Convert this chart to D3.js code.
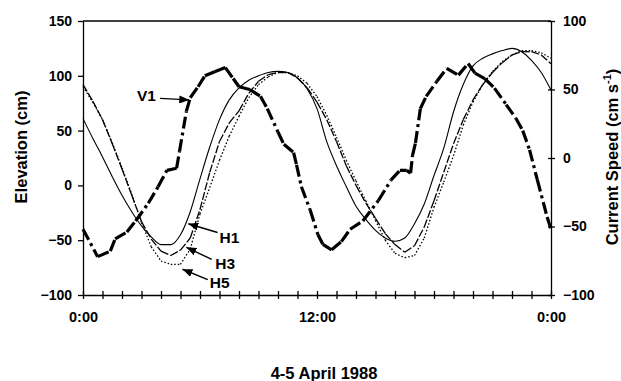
<!DOCTYPE html>
<html>
<head>
<meta charset="utf-8">
<script src="https://cdn.jsdelivr.net/npm/d3@7"></script>
<style>
  body { margin: 0; background: #fff; }
  svg { display: block; font-family: "Liberation Sans", Arial, sans-serif; font-weight: bold; }
  .axis path, .axis line { stroke: #000; stroke-width: 1.3; }
  .axis text { font-size: 14px; font-weight: bold; fill: #000; }
</style>
</head>
<body>
<div id="chart"></div>
<script>
// Hours for the elevation series (every half hour, 4-5 April 1988)
var hHours = [0, 0.5, 1, 1.5, 2, 2.5, 3, 3.5, 4, 4.5, 5, 5.5, 6, 6.5, 7, 7.5, 8, 8.5, 9, 9.5,
              10, 10.5, 11, 11.5, 12, 12.5, 13, 13.5, 14, 14.5, 15, 15.5, 16, 16.5, 17, 17.5,
              18, 18.5, 19, 19.5, 20, 20.5, 21, 21.5, 22, 22.5, 23, 23.5, 24];

// Elevation (cm)
var h1 = [61, 43, 26, 8, -9, -24, -37, -47, -54, -54, -45, -24, 6, 35, 60, 78, 89, 96, 100, 103,
          104, 103, 98, 88, 70, 40, 18, -1, -19, -31, -41, -48, -51, -48, -35, -17, 9, 34, 67, 92,
          109, 116, 120, 123, 125, 122, 114, 103, 87];
var h3 = [92, 77, 60, 38, 15, -9, -33, -49, -60, -64, -59, -48, -22, 12, 40, 57, 68, 84, 95, 101,
          103, 103, 98, 89, 76, 60, 40, 18, 0, -16, -30, -44, -54, -61, -55, -38, -14, 12, 38, 60,
          78, 92, 103, 112, 119, 122, 122, 119, 111];
var h5 = [90, 76, 60, 39, 16, -8, -34, -56, -69, -72, -72, -58, -26, -2, 23, 45, 63, 80, 92, 99,
          103, 103, 100, 93, 81, 64, 44, 23, 4, -14, -32, -50, -62, -66, -64, -48, -20, 3, 27, 55,
          76, 92, 104, 113, 119, 123, 123, 121, 116];

// Current speed V1 (cm/s)
var v1Hours = [0, 0.75, 1.4, 1.65, 2.25, 2.7, 3.35, 3.85, 4.3, 4.8, 4.95, 5.3, 5.5, 5.9, 6.25, 6.75, 7.3, 7.7, 8.0, 8.55,
               9.1, 9.45, 10.0, 10.3, 10.8, 10.95, 11.2, 11.65, 12.05, 12.3, 12.75, 13.25, 13.7, 14.35, 15.15, 15.8, 16.25, 16.6, 16.8, 16.9,
               17.05, 17.3, 17.6, 18.15, 18.65, 19.25, 19.75, 20.1, 20.6, 21.1, 21.7, 22.2, 22.55, 22.9, 23.3, 23.8, 24];
var v1Speed = [-52, -72, -68, -59, -54, -46, -33, -21, -9, -7.5, 5, 34, 44, 52, 60, 63, 66, 58, 52, 50,
               45, 36, 19, 10, 4, -5, -21, -38, -56, -63, -67, -61, -52, -46, -31, -16, -9, -9, -11, 2,
               11, 36, 45, 56, 65.5, 60.5, 69, 62, 58, 51, 39, 29, 20, 6, -16, -43, -52];

var elevTicks = [-100, -50, 0, 50, 100, 150];
var speedTicks = [-100, -50, 0, 50, 100];
var hourTicks = [0, 1, 2, 3, 4, 5, 6, 7, 8, 9, 10, 11, 12, 13, 14, 15, 16, 17, 18, 19, 20, 21, 22, 23, 24];

// Labels: [name, text hour, text elev, arrow tail hour, tail elev, tip hour, tip elev]
var callouts = [
  ['V1', 2.77, 76.6, 3.95, 79.4, 5.45, 78],
  ['H1', 7.0, -52.3, 6.9, -43, 5.4, -35],
  ['H3', 6.78, -76.2, 6.6, -67.5, 5.3, -56.5],
  ['H5', 6.5, -93.3, 6.4, -86, 5.1, -76.5]
];

var W = 621, H = 381;
var plotLeft = 83, plotRight = 551, plotTop = 21, plotBottom = 295;

var svg = d3.select('#chart').append('svg')
            .attr('width', W).attr('height', H);

svg.append('defs').append('marker')
   .attr('id', 'arrow')
   .attr('viewBox', '0 0 10 10')
   .attr('refX', 10).attr('refY', 5)
   .attr('markerWidth', 10).attr('markerHeight', 8)
   .attr('markerUnits', 'userSpaceOnUse')
   .attr('orient', 'auto')
   .attr('preserveAspectRatio', 'none')
   .append('path').attr('d', 'M0,0 L10,5 L0,10 z').attr('fill', '#000');

var x = d3.scaleLinear().domain([0, 24]).range([plotLeft, plotRight]);
var yL = d3.scaleLinear().domain([-100, 150]).range([plotBottom, plotTop]);
var yR = d3.scaleLinear().domain([-100, 100]).range([plotBottom, plotTop]);

// frame top line
svg.append('line')
   .attr('x1', x(0)).attr('x2', x(24))
   .attr('y1', yL(150)).attr('y2', yL(150))
   .attr('stroke', '#000').attr('stroke-width', 1.3);

// x-axis
var xAxis = d3.axisBottom(x)
              .tickValues(hourTicks)
              .tickFormat(function(d) { return d % 12 === 0 ? (d % 24) + ':00' : ''; })
              .tickSizeInner(4).tickSizeOuter(0).tickPadding(13);
var gx = svg.append('g').attr('class', 'axis')
            .attr('transform', 'translate(0,' + plotBottom + ')')
            .call(xAxis);
gx.selectAll('.tick line').attr('y1', -4).attr('y2', 4);
gx.selectAll('.tick text').style('font-size', '14.5px');

// left axis
var gl = svg.append('g').attr('class', 'axis')
            .attr('transform', 'translate(' + plotLeft + ',0)')
            .call(d3.axisLeft(yL).tickValues(elevTicks).tickSizeInner(5).tickSizeOuter(0).tickPadding(6));

// right axis
var gr = svg.append('g').attr('class', 'axis')
            .attr('transform', 'translate(' + plotRight + ',0)')
            .call(d3.axisRight(yR).tickValues(speedTicks).tickSizeInner(4).tickSizeOuter(0).tickPadding(8));
gr.selectAll('.tick line').attr('x1', -3).attr('x2', 4);

// series drawn segment by segment so the dash pattern restarts at each point
function drawSeries(hours, values, yScale, width, dash) {
  var pts = hours.map(function(h, i) { return [h, values[i]]; });
  var line = d3.line()
               .x(function(d) { return x(d[0]); })
               .y(function(d) { return yScale(d[1]); });
  svg.append('g')
     .selectAll('path')
     .data(d3.pairs(pts))
     .enter()
     .append('path')
     .attr('d', line)
     .attr('fill', 'none')
     .attr('stroke', '#000')
     .attr('stroke-width', width)
     .attr('stroke-linecap', 'butt')
     .attr('stroke-dasharray', dash);
}

// H1 as one smooth thin line
svg.append('path')
   .datum(hHours.map(function(h, i) { return [h, h1[i]]; }))
   .attr('d', d3.line().curve(d3.curveMonotoneX)
                .x(function(d) { return x(d[0]); })
                .y(function(d) { return yL(d[1]); }))
   .attr('fill', 'none').attr('stroke', '#000').attr('stroke-width', 1.1);

drawSeries(hHours, h3, yL, 1.3, '8,2');
drawSeries(hHours, h5, yL, 1.3, '1.5,2');
drawSeries(v1Hours, v1Speed, yR, 3.2, '12,4,3,4');

// callouts
var co = svg.append('g');
co.selectAll('line')
  .data(callouts)
  .enter()
  .append('line')
  .attr('x1', function(d) { return x(d[3]); })
  .attr('y1', function(d) { return yL(d[4]); })
  .attr('x2', function(d) { return x(d[5]); })
  .attr('y2', function(d) { return yL(d[6]); })
  .attr('stroke', '#000').attr('stroke-width', 1.4)
  .attr('marker-end', 'url(#arrow)');
co.selectAll('text')
  .data(callouts)
  .enter()
  .append('text')
  .attr('x', function(d) { return x(d[1]); })
  .attr('y', function(d) { return yL(d[2]); })
  .style('font-size', '15.5px')
  .text(function(d) { return d[0]; });

// axis titles
svg.append('text')
   .attr('transform', 'translate(27,' + 147 + ') rotate(-90)')
   .attr('text-anchor', 'middle')
   .style('font-size', '16.5px')
   .text('Elevation (cm)');

var rt = svg.append('text')
   .attr('transform', 'translate(618,' + 157 + ') rotate(-90)')
   .attr('text-anchor', 'middle')
   .style('font-size', '16.5px');
rt.append('tspan').text('Current Speed (cm s');
rt.append('tspan').attr('dy', -7).style('font-size', '11px').text('-1');
rt.append('tspan').attr('dy', 7).text(')');

svg.append('text')
   .attr('x', 324).attr('y', 379)
   .attr('text-anchor', 'middle')
   .style('font-size', '16.5px')
   .text('4-5 April 1988');
</script>
</body>
</html>
